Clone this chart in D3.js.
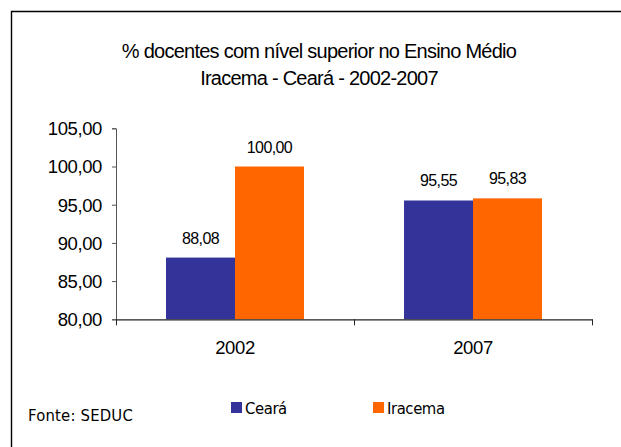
<!DOCTYPE html>
<html>
<head>
<meta charset="utf-8">
<script src="https://cdn.jsdelivr.net/npm/d3@7"></script>
<style>
	body { margin: 0; background: #fff; }
	svg { display: block; }
	text { font-family: "Liberation Sans", Arial, sans-serif; fill: #000; }
</style>
</head>
<body>
<svg width="621" height="447"></svg>
<script>
var anos = ["2002", "2007"];
var series = ["Ceará", "Iracema"];
var ceara = [88.08, 95.55];
var iracema = [100.00, 95.83];
var yTicks = [80, 85, 90, 95, 100, 105];
var cores = ["#333399", "#ff6600"];

var svg = d3.select("svg"),
	width = +svg.attr("width"),
	height = +svg.attr("height");

var fmt = function (v) { return d3.format(".2f")(v).replace(".", ","); };

// moldura (só topo e esquerda aparecem)
svg.append("path")
	.attr("d", "M11.5," + height + "V11.5H" + width)
	.attr("fill", "none")
	.attr("stroke", "#000")
	.attr("stroke-width", 1.4);

// titulo
var title = svg.append("g").attr("text-anchor", "middle").style("font-size", "20px").style("letter-spacing", "-0.75px");
title.append("text").attr("x", 319).attr("y", 57.5).text("% docentes com nível superior no Ensino Médio");
title.append("text").attr("x", 319).attr("y", 85).text("Iracema - Ceará - 2002-2007");

var margin = {left: 116, right: 29, top: 128.3, bottom: 127.7};

var x0 = d3.scaleBand().domain(anos).range([margin.left, width - margin.right]);
var x1 = d3.scaleBand().domain(series).range([0, x0.bandwidth()]).paddingOuter(0.725);
var y = d3.scaleLinear().domain([80, 105]).range([height - margin.bottom, margin.top]);

var dados = anos.map(function (a, i) {
	return {ano: a, valores: [ceara[i], iracema[i]]};
});

var grupo = svg.append("g").selectAll("g")
	.data(dados)
	.enter().append("g")
	.attr("transform", function (d) { return "translate(" + x0(d.ano) + ",0)"; });

grupo.selectAll("rect")
	.data(function (d) { return d.valores.map(function (v, j) { return {s: series[j], v: v, c: cores[j]}; }); })
	.enter().append("rect")
	.attr("x", function (d) { return x1(d.s); })
	.attr("width", x1.bandwidth())
	.attr("y", function (d) { return y(d.v); })
	.attr("height", function (d) { return y(80) - y(d.v); })
	.attr("fill", function (d) { return d.c; });

grupo.selectAll("text")
	.data(function (d) { return d.valores.map(function (v, j) { return {s: series[j], v: v}; }); })
	.enter().append("text")
	.attr("x", function (d) { return x1(d.s) + x1.bandwidth() / 2; })
	.attr("y", function (d) { return y(d.v) - 14; })
	.attr("text-anchor", "middle")
	.style("font-size", "16px")
	.style("letter-spacing", "-0.6px")
	.text(function (d) { return fmt(d.v); });

// eixo y
var yAxis = svg.append("g")
	.attr("transform", "translate(" + margin.left + ",0)")
	.call(d3.axisLeft(y).tickValues(yTicks).tickSize(4).tickPadding(10).tickFormat(fmt));
yAxis.select(".domain").attr("stroke", "#555");
yAxis.selectAll(".tick line").attr("stroke", "#555");
yAxis.selectAll("text").style("font-size", "18.5px").style("font-family", "Liberation Sans, Arial, sans-serif").style("letter-spacing", "-0.4px").attr("dy", "0.35em");

// eixo x
var xAxis = svg.append("g")
	.attr("transform", "translate(0," + y(80) + ")")
	.call(d3.axisBottom(x0).tickSize(0).tickPadding(22));
xAxis.select(".domain").attr("stroke", "#222").attr("stroke-width", 1.3);
xAxis.selectAll("text").style("font-size", "18.5px").style("font-family", "Liberation Sans, Arial, sans-serif").style("letter-spacing", "-0.4px");
var limites = anos.map(function (a) { return x0(a); }).concat([x0.range()[1]]);
xAxis.selectAll(".sep")
	.data(limites)
	.enter().append("line")
	.attr("x1", function (d) { return d + 0.5; })
	.attr("x2", function (d) { return d + 0.5; })
	.attr("y1", 0)
	.attr("y2", 6)
	.attr("stroke", "#222");

// legenda
var leg = svg.append("g").selectAll("g")
	.data(series)
	.enter().append("g")
	.attr("transform", function (d, i) { return "translate(" + (231 + i * 142) + ",402)"; });
leg.append("rect").attr("width", 11).attr("height", 11).attr("fill", function (d, i) { return cores[i]; });
leg.append("text").attr("x", 14).attr("y", 12)
	.style("font-family", "DejaVu Sans Condensed, DejaVu Sans, sans-serif")
	.style("font-size", "16.5px")
	.style("letter-spacing", "-0.4px")
	.text(function (d) { return d; });

svg.append("text")
	.attr("x", 28).attr("y", 420.5)
	.style("font-family", "DejaVu Sans Condensed, DejaVu Sans, sans-serif")
	.style("font-size", "16.5px")
	.style("letter-spacing", "0.2px")
	.text("Fonte: SEDUC");
</script>
</body>
</html>
